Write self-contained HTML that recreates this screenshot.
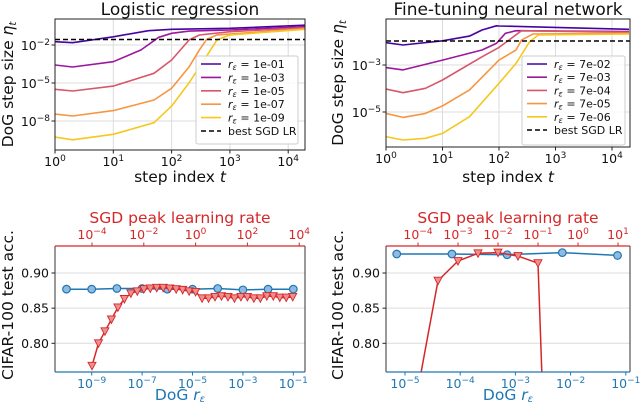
<!DOCTYPE html>
<html><head><meta charset="utf-8"><style>
html,body{margin:0;background:#fff;overflow:hidden;width:640px;height:408px;}
svg{display:block;font-family:"DejaVu Sans","Liberation Sans",sans-serif;}
</style></head><body>
<svg id="fig" width="640" height="408" viewBox="0 0 640 408" xmlns="http://www.w3.org/2000/svg"></svg>
<script>
// ---------- data ----------
const colors = ['#46039f','#9c179e','#d8576b','#f89540','#f5c81f'];
const lrLabels = ['1e-01','1e-03','1e-05','1e-07','1e-09'];
const lrT = [[1,2,10,40,100,1000,20000],[1,2,10,30,60,100,200,1000,20000],[1,2,10,50,100,200,300,1000,20000],[1,2,10,50,100,200,300,400,600,20000],[1,2,10,50,100,200,400,600,1000,20000]];
const lrEta = [[-1.74,-1.82,-1.35,-0.87,-0.76,-0.68,-0.44],[-3.58,-3.74,-3.32,-2.39,-1.39,-1.08,-0.9,-0.82,-0.55],[-5.5,-5.63,-5.24,-4.23,-3.18,-1.6,-1.21,-0.95,-0.63],[-7.45,-7.6,-7.18,-6.34,-5.42,-3.71,-2.39,-1.55,-1.2,-0.71],[-9.27,-9.48,-9.05,-8.13,-6.82,-4.97,-2.87,-1.6,-1.2,-0.76]];
const lrBest = -1.57;
const ftLabels = ['7e-02','7e-03','7e-04','7e-05','7e-06'];
const ftT = [[1,2,10,30,50,90,100,1000,20000],[1,2,10,50,90,130,200,20000],[1,2,5,10,50,100,150,250,20000],[1,2,5,10,30,100,200,250,400,20000],[1,2,5,10,30,100,200,350,500,20000]];
const ftEta = [[-2.05,-2.15,-1.97,-1.77,-1.51,-1.33,-1.34,-1.4,-1.48],[-3.11,-3.21,-2.79,-2.36,-2.08,-1.65,-1.54,-1.58],[-4.02,-4.18,-3.99,-3.64,-2.65,-2.25,-1.94,-1.54,-1.61],[-5.06,-5.23,-5.06,-4.74,-4.06,-2.79,-2.36,-1.94,-1.68,-1.65],[-6.05,-6.19,-6.12,-5.91,-5.2,-3.78,-2.93,-2.01,-1.72,-1.68]];
const ftBest = -1.98;
// bottom-left
const blDogR = [-10,-9,-8,-7,-6,-5,-4,-3,-2,-1];
const blDogAcc = [0.877,0.877,0.878,0.878,0.877,0.877,0.878,0.876,0.877,0.877];
const blSgdLr = [-4,-3.75,-3.5,-3.25,-3,-2.75,-2.5,-2.25,-2,-1.75,-1.5,-1.25,-1,-0.75,-0.5,-0.25,0,0.25,0.5,0.75,1,1.25,1.5,1.75,2,2.25,2.5,2.75,3,3.25,3.5,3.75];
const blSgdAcc = [0.768,0.80,0.817,0.834,0.851,0.863,0.871,0.874,0.877,0.878,0.879,0.879,0.878,0.877,0.876,0.874,0.873,0.864,0.864,0.866,0.867,0.866,0.864,0.866,0.866,0.864,0.864,0.867,0.867,0.865,0.865,0.866];
// bottom-right
const brDogR = [-5.15,-4.15,-3.15,-2.15,-1.15];
const brDogAcc = [0.927,0.927,0.926,0.929,0.925];
const brSgdLr = [-4,-3.5,-3,-2.5,-2,-1.5,-1,-0.5];
const brSgdAcc = [0.735,0.889,0.917,0.928,0.929,0.924,0.914,0.1];

// ---------- helpers ----------
const NS='http://www.w3.org/2000/svg';
const svg=document.getElementById('fig');
function el(tag,attrs,parent){const e=document.createElementNS(NS,tag);for(const k in attrs)e.setAttribute(k,attrs[k]);(parent||svg).appendChild(e);return e;}
function txt(x,y,s,attrs,parent){const e=el('text',Object.assign({x:x,y:y},attrs||{}),parent);e.innerHTML=s;return e;}
function lin(d0,d1,p0,p1){return v=>p0+(v-d0)/(d1-d0)*(p1-p0);}
let clipN=0;
function clip(x0,y0,x1,y1){const id='c'+(clipN++);const c=el('clipPath',{id:id});el('rect',{x:x0,y:y0,width:x1-x0,height:y1-y0},c);return 'url(#'+id+')';}
function sup(base,exp){return base+'<tspan dy="-5" font-size="9">'+exp+'</tspan>';}

// ---------- top panels ----------
function topPanel(o){
  const g=el('g',{});
  
  
  const sx=t=>o.x0+Math.log10(t)*o.xDec;
  const sy=e=>o.yRef+(o.yRefExp-e)*o.yDec;
  for(let d=0;d<=4;d++){const x=sx(Math.pow(10,d));const l=el('line',{x1:x,x2:x,y1:o.y0,y2:o.y1,stroke:'#dcdcdc','stroke-width':1},g);}
  o.yTicks.forEach(e=>{const y=sy(e);const l=el('line',{x1:o.x0,x2:o.x1,y1:y,y2:y,stroke:'#dcdcdc','stroke-width':1},g);});
  const cp=clip(o.x0,o.y0,o.x1,o.y1);
  o.T.forEach((ts,i)=>{
    const pts=ts.map((t,j)=>sx(t).toFixed(1)+','+sy(o.E[i][j]).toFixed(1)).join(' ');
    const p=el('polyline',{points:pts,fill:'none',stroke:o.colors[i],'stroke-width':1.6,'clip-path':cp,'stroke-linejoin':'round'},g);
    
    
  });
  const by=sy(o.best);
  const b=el('line',{x1:o.x0,x2:o.x1,y1:by,y2:by,stroke:'#000','stroke-width':1.5,'stroke-dasharray':'5,3'},g);
  
  el('rect',{x:o.x0,y:o.y0,width:o.x1-o.x0,height:o.y1-o.y0,fill:'none',stroke:'#222','stroke-width':1},g);
  for(let d=0;d<=4;d++){const x=sx(Math.pow(10,d));el('line',{x1:x,x2:x,y1:o.y1,y2:o.y1+3.5,stroke:'#222'},g);
    const t=txt(x,o.y1+16,sup('10',d),{'font-size':12.5,'text-anchor':'middle',fill:'#111'},g);}
  o.yTicks.forEach(e=>{const y=sy(e);el('line',{x1:o.x0-3.5,x2:o.x0,y1:y,y2:y,stroke:'#222'},g);
    const t=txt(o.x0-5,y+5,sup('10',e<0?'\u2212'+(-e):e),{'font-size':12.5,'text-anchor':'end',fill:'#111'},g);});
  const ti=txt((o.x0+o.x1)/2,15,o.title,{'font-size':17,'text-anchor':'middle',fill:'#111'},g);
  const xl=txt((o.x0+o.x1)/2,182,'step index <tspan font-style="italic">t</tspan>',{'font-size':15.5,'text-anchor':'middle',fill:'#111'},g);
  const yc=(o.y0+o.y1)/2;
  const yl=txt(o.yLabX,yc,'DoG step size <tspan font-style="italic">η</tspan><tspan font-style="italic" font-size="10" dy="3">t</tspan>',{'font-size':15.5,'text-anchor':'middle',fill:'#111',transform:'rotate(-90 '+o.yLabX+' '+yc+')'},g);
  
  const L=o.leg;
  const lg=el('g',{},g);
  el('rect',{x:L.x,y:L.y,width:L.w,height:L.h,rx:2,fill:'#fff','fill-opacity':0.85,stroke:'#ccc'},lg);
  const items=o.labels.map((s,i)=>({c:o.colors[i],s:'<tspan font-style="italic">r</tspan><tspan font-style="italic" font-size="8" dy="2">ε</tspan><tspan dy="-2"> = '+s+'</tspan>',d:null})).concat([{c:'#000',s:'best SGD LR',d:'5,3'}]);
  items.forEach((it,i)=>{const y=L.y+8+i*L.step;
    const e=el('g',{},lg);
    const a={x1:L.x+5,x2:L.x+25,y1:y,y2:y,stroke:it.c,'stroke-width':1.6};if(it.d)a['stroke-dasharray']=it.d;el('line',a,e);
    txt(L.x+32,y+4,it.s,{'font-size':11,fill:'#111'},e);});
}
topPanel({name:'logistic-regression-panel',title:'Logistic regression',x0:55,x1:305,y0:19,y1:150,xDec:58.3,yRef:45,yRefExp:-2,yDec:12.67,yTicks:[-2,-5,-8],T:lrT,E:lrEta,best:lrBest,colors:colors,labels:lrLabels,yLabX:13,leg:{x:196,y:56,w:102,h:88,step:13.4}});
topPanel({name:'fine-tuning-panel',title:'Fine-tuning neural network',x0:386,x1:630,y0:19,y1:147,xDec:56.5,yRef:65,yRefExp:-3,yDec:23.5,yTicks:[-3,-5],T:ftT,E:ftEta,best:ftBest,colors:colors,labels:ftLabels,yLabX:343,leg:{x:522,y:56,w:103,h:89,step:13.2}});

// ---------- bottom panels ----------
const BLUE='#1f77b4',RED='#d62728';
function triangle(x,y){return (x-4)+','+(y-3.5)+' '+(x+4)+','+(y-3.5)+' '+x+','+(y+4);}
function botPanel(o){
  const g=el('g',{});
  const y0=246,y1=372;
  const sy=lin(0.80,0.90,343.3,273);
  const bx=v=>o.bRef+(v-o.bRefExp)*o.bDec;
  const tx=v=>o.tRef+(v-o.tRefExp)*o.tDec;
  [0.80,0.85,0.90].forEach(v=>{const y=sy(v);const l=el('line',{x1:o.x0,x2:o.x1,y1:y,y2:y,stroke:'#dcdcdc'},g);
    el('line',{x1:o.x0-3.5,x2:o.x0,y1:y,y2:y,stroke:'#222'},g);
    const t=txt(o.x0-6,y+4.5,v.toFixed(2),{'font-size':12.5,'text-anchor':'end',fill:'#111'},g);});
  const cp=clip(o.x0,y0,o.x1,y1);
  const bp=el('polyline',{points:o.dR.map((r,i)=>bx(r).toFixed(1)+','+sy(o.dA[i]).toFixed(1)).join(' '),fill:'none',stroke:BLUE,'stroke-width':1.5,'clip-path':cp},g);
  
  o.dR.forEach((r,i)=>{const c=el('circle',{cx:bx(r),cy:sy(o.dA[i]),r:3.8,fill:'#8fbbe0',stroke:BLUE,'stroke-width':1.2,'clip-path':cp},g);});
  const rp=el('polyline',{points:o.sR.map((r,i)=>tx(r).toFixed(1)+','+sy(o.sA[i]).toFixed(1)).join(' '),fill:'none',stroke:RED,'stroke-width':1.5,'clip-path':cp},g);
  
  o.sR.forEach((r,i)=>{const p=el('polygon',{points:triangle(tx(r),sy(o.sA[i])),fill:'#ee8f8f',stroke:RED,'stroke-width':0.9,'clip-path':cp},g);});
  el('line',{x1:o.x0,x2:o.x0,y1:y0,y2:y1,stroke:'#333','stroke-width':1},g);
  el('line',{x1:o.x1,x2:o.x1,y1:y0,y2:y1,stroke:'#333','stroke-width':1},g);
  el('line',{x1:o.x0,x2:o.x1,y1:y0,y2:y0,stroke:RED,'stroke-width':1.2},g);
  el('line',{x1:o.x0,x2:o.x1,y1:y1,y2:y1,stroke:BLUE,'stroke-width':1.2},g);
  o.bTicks.forEach(e=>{const x=bx(e);el('line',{x1:x,x2:x,y1:y1,y2:y1+3.5,stroke:BLUE},g);
    const t=txt(x,y1+16,sup('10',e<0?'\u2212'+(-e):e),{'font-size':12.5,'text-anchor':'middle',fill:BLUE},g);});
  o.tTicks.forEach(e=>{const x=tx(e);el('line',{x1:x,x2:x,y1:y0-3.5,y2:y0,stroke:RED},g);
    const t=txt(x,y0-7,sup('10',e<0?'\u2212'+(-e):e),{'font-size':12.5,'text-anchor':'middle',fill:RED},g);});
  const cx=(o.x0+o.x1)/2;
  const tt=txt(cx,223,'SGD peak learning rate',{'font-size':15.5,'text-anchor':'middle',fill:RED},g);
  const bt=txt(cx,400,'DoG <tspan font-style="italic">r</tspan><tspan font-style="italic" font-size="10" dy="2">ε</tspan>',{'font-size':15.5,'text-anchor':'middle',fill:BLUE},g);
  const yc=(y0+y1)/2-4;
  const yl=txt(o.yLabX,yc,'CIFAR-100 test acc.',{'font-size':15.5,'text-anchor':'middle',fill:'#111',transform:'rotate(-90 '+o.yLabX+' '+yc+')'},g);
}
botPanel({name:'logistic-accuracy-panel',x0:55,x1:305,bRef:91.7,bRefExp:-9,bDec:25.2,tRef:92,tRefExp:-4,tDec:25.9,bTicks:[-9,-7,-5,-3,-1],tTicks:[-4,-2,0,2,4],dR:blDogR,dA:blDogAcc,sR:blSgdLr,sA:blSgdAcc,yLabX:13});
botPanel({name:'fine-tuning-accuracy-panel',x0:386,x1:630,bRef:405,bRefExp:-5,bDec:55.2,tRef:418,tRefExp:-4,tDec:40,bTicks:[-5,-4,-3,-2,-1],tTicks:[-4,-3,-2,-1,0,1],dR:brDogR,dA:brDogAcc,sR:brSgdLr,sA:brSgdAcc,yLabX:343});
</script>
</body></html>
